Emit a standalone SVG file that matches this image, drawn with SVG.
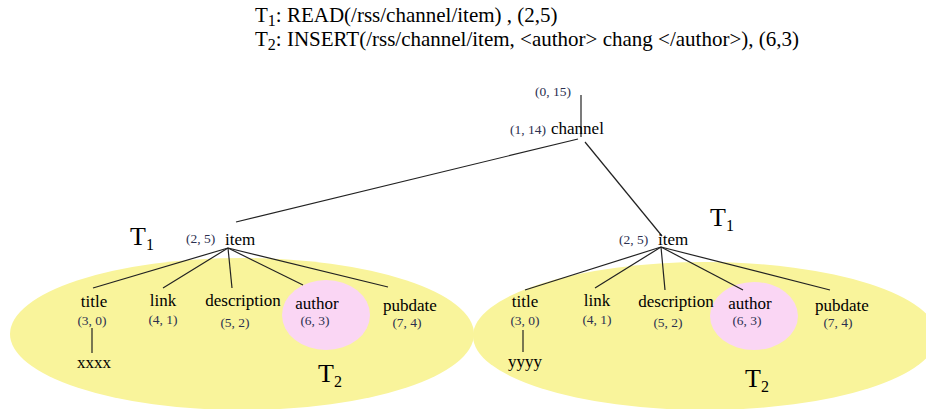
<svg xmlns="http://www.w3.org/2000/svg" width="926" height="409" viewBox="0 0 926 409" font-family="'Liberation Serif', 'DejaVu Serif', serif">
<style>
text, tspan{font-family:'Liberation Serif', 'DejaVu Serif', serif}
text{fill:#000}
.hd{font-size:21px}
.n{font-size:17px}
.c{font-size:13.5px;fill:#2b3050}
.t{font-size:26px}
.sub{font-size:16px}
.e{stroke:#222;stroke-width:1.2;fill:none}
.y{fill:#f9f49b}
.p{fill:#fad6f4}
</style>
<rect width="926" height="409" fill="#fff"/>
<g id="header">
<text class="hd" x="255" y="22">T<tspan class="sub" dy="4">1</tspan><tspan dy="-4">: READ(/rss/channel/item) , (2,5)</tspan></text>
<text class="hd" x="255" y="46">T<tspan class="sub" dy="4">2</tspan><tspan dy="-4">: INSERT(/rss/channel/item, &lt;author&gt; chang &lt;/author&gt;), (6,3)</tspan></text>
</g>
<g id="regions">
<ellipse class="y" cx="242" cy="334" rx="232" ry="76"/>
<ellipse class="y" cx="705" cy="336" rx="232" ry="74"/>
<ellipse class="p" cx="326" cy="315" rx="44" ry="35"/>
<ellipse class="p" cx="754" cy="316" rx="44" ry="34"/>
</g>
<g id="connectors">
<line class="e" x1="581" y1="95" x2="581" y2="137"/>
<line class="e" x1="578" y1="139" x2="236" y2="222"/>
<line class="e" x1="585" y1="142" x2="662" y2="236"/>
<line class="e" x1="228" y1="248" x2="93" y2="288"/>
<line class="e" x1="228" y1="248" x2="163" y2="288"/>
<line class="e" x1="228" y1="248" x2="232" y2="288"/>
<line class="e" x1="228" y1="248" x2="303" y2="285"/>
<line class="e" x1="228" y1="248" x2="388" y2="287"/>
<line class="e" x1="92" y1="328" x2="92" y2="353"/>
<line class="e" x1="661" y1="247" x2="525" y2="290"/>
<line class="e" x1="661" y1="247" x2="595" y2="288"/>
<line class="e" x1="661" y1="247" x2="665" y2="290"/>
<line class="e" x1="661" y1="247" x2="743" y2="290"/>
<line class="e" x1="661" y1="247" x2="830" y2="290"/>
<line class="e" x1="523" y1="330" x2="523" y2="352"/>
</g>
<g id="root"><text class="c" x="535" y="96">(0, 15)</text></g>
<g id="channel"><text class="c" x="510" y="134">(1, 14)</text><text class="n" x="551" y="134">channel</text></g>
<g id="item-left">
<text class="c" x="186" y="243">(2, 5)</text><text class="n" x="225" y="245">item</text>
<text class="t" x="130" y="245">T<tspan class="sub" dy="5">1</tspan></text>
</g>
<g id="item-right">
<text class="c" x="619" y="244">(2, 5)</text><text class="n" x="658" y="245">item</text>
<text class="t" x="710" y="226">T<tspan class="sub" dy="5">1</tspan></text>
</g>
<g id="left-children" text-anchor="middle">
<text class="n" x="94" y="307">title</text><text class="c" x="92" y="325">(3, 0)</text>
<text class="n" x="163" y="306">link</text><text class="c" x="163" y="324">(4, 1)</text>
<text class="n" x="243" y="306">description</text><text class="c" x="235" y="327">(5, 2)</text>
<text class="n" x="317" y="309">author</text><text class="c" x="315" y="325">(6, 3)</text>
<text class="n" x="410" y="311">pubdate</text><text class="c" x="407" y="327">(7, 4)</text>
<text class="n" x="94" y="368">xxxx</text>
<text class="t" x="330" y="382">T<tspan class="sub" dy="5">2</tspan></text>
</g>
<g id="right-children" text-anchor="middle">
<text class="n" x="525" y="307">title</text><text class="c" x="525" y="325">(3, 0)</text>
<text class="n" x="597" y="306">link</text><text class="c" x="597" y="324">(4, 1)</text>
<text class="n" x="676" y="307">description</text><text class="c" x="668" y="327">(5, 2)</text>
<text class="n" x="750" y="309">author</text><text class="c" x="747" y="325">(6, 3)</text>
<text class="n" x="842" y="311">pubdate</text><text class="c" x="838" y="327">(7, 4)</text>
<text class="n" x="525" y="367">yyyy</text>
<text class="t" x="757" y="387">T<tspan class="sub" dy="5">2</tspan></text>
</g>
</svg>
